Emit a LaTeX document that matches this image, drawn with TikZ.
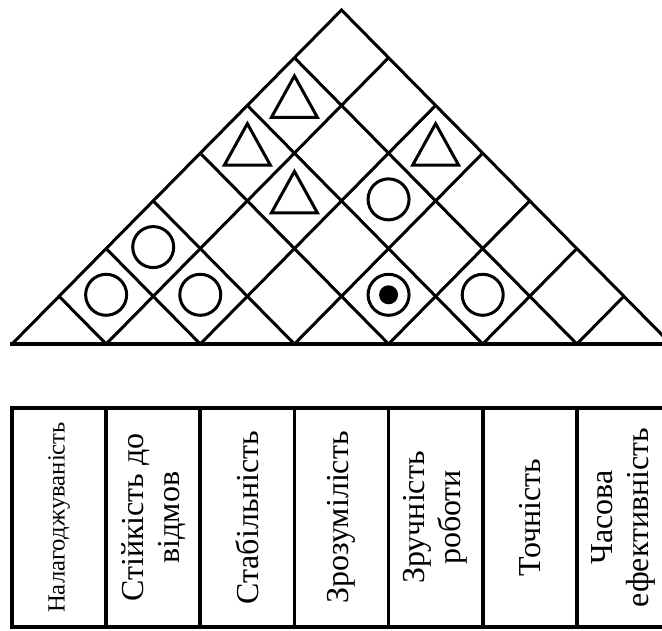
\documentclass[tikz,border=0pt]{standalone}
\usepackage{fontspec}
\setmainfont{Liberation Serif}
\begin{document}
\begin{tikzpicture}[x=1pt,y=-1pt,
  roof/.style={line width=3pt},
  basel/.style={line width=4pt},
  tab/.style={line width=3.6pt},
  ocirc/.style={circle, draw, line width=3pt, minimum size=41pt, inner sep=0pt},
  odot/.style={circle, fill, minimum size=19pt, inner sep=0pt},
  tri/.style={line width=3pt},
  lbl/.style={rotate=90, font=\fontsize{32}{36}\selectfont, align=center},
  lblsmall/.style={rotate=90, font=\fontsize{24.7}{28}\selectfont, align=center}
]
\useasboundingbox (0,0) rectangle (662,630);
\clip (0,0) rectangle (662,630);
\def\h{47.07}
\def\v{47.714}
% roof outline
\draw[roof] (12,344) -- ({12+7*\h},{344-7*\v}) -- ({12+14*\h},344);
\foreach \k in {1,...,6}{
  \draw[roof] ({12+2*\k*\h},344) -- ({12+(\k+7)*\h},{344-(7-\k)*\v});
  \draw[roof] ({12+2*\k*\h},344) -- ({12+\k*\h},{344-\k*\v});
}
\draw[basel] (10,344) -- (672,344);
% circles
\foreach \i/\j in {1/2,1/3,2/3,3/6,5/6,4/5}{
  \node[ocirc] (c\i\j) at ({12+(\i+\j-1)*\h},{344-(\j-\i)*\v-1.5}) {};
}
\node[odot] (d45) at (c45.center) {};
% triangles
\foreach \i/\j in {1/6,1/5,2/5,3/7}{
  \coordinate (t\i\j) at ({12+(\i+\j-1)*\h},{344-(\j-\i)*\v});
  \draw[tri] ([yshift=29.5pt]t\i\j) -- ([xshift=23pt,yshift=-12pt]t\i\j) -- ([xshift=-23pt,yshift=-12pt]t\i\j) -- cycle;
}
% table
\draw[tab] (12,408) rectangle ({12+14*\h},627);
\foreach \k in {1,...,6}{
  \draw[tab] ({12+2*\k*\h},408) -- ({12+2*\k*\h},627);
}
\node[lblsmall] (l1) at ({12+1*\h},517.5) {Налагоджуваність};
\node[lbl] (l2) at ({12+3*\h},517.5) {Стійкість до\\відмов};
\node[lbl] (l3) at ({12+5*\h},517.5) {Стабільність};
\node[lbl] (l4) at ({12+7*\h},517.5) {Зрозумілість};
\node[lbl] (l5) at ({12+9*\h},517.5) {Зручність\\роботи};
\node[lbl] (l6) at ({12+11*\h},517.5) {Точність};
\node[lbl] (l7) at ({12+13*\h},517.5) {Часова\\ефективність};
\end{tikzpicture}
\end{document}
